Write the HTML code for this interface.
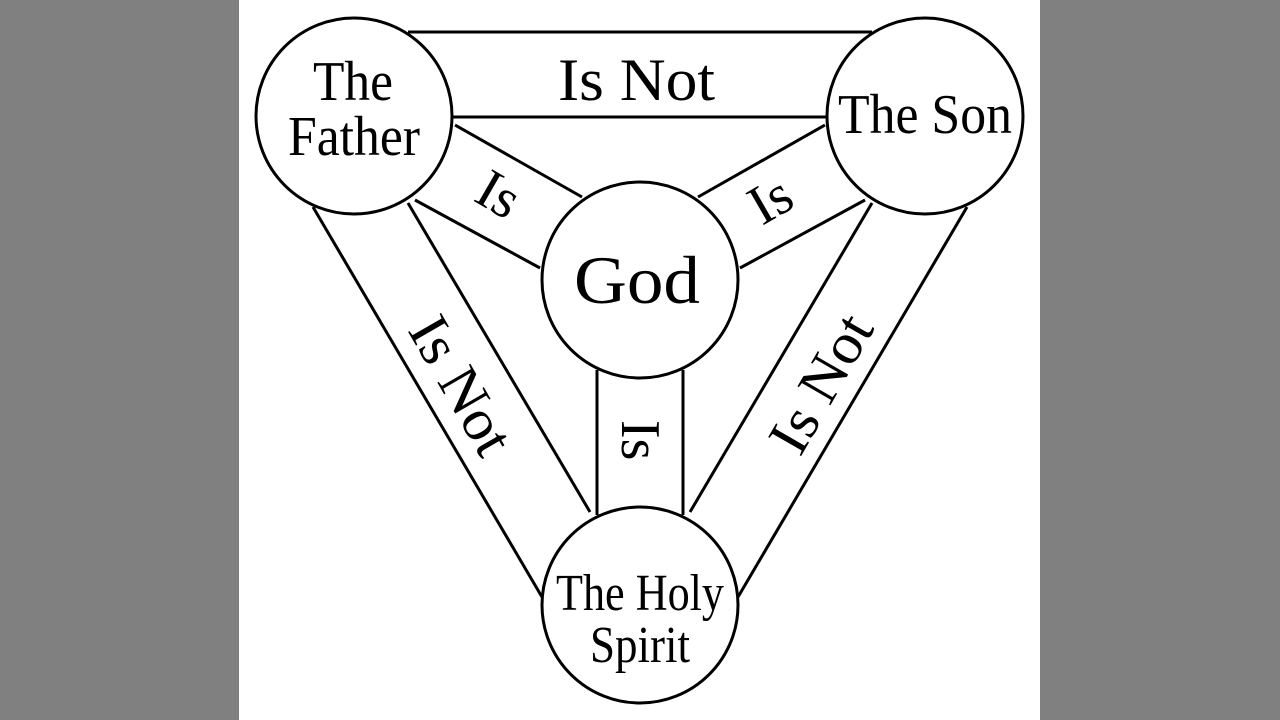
<!DOCTYPE html>
<html><head><style>
html,body{margin:0;padding:0;background:#808080;width:1280px;height:720px;overflow:hidden}
svg{position:absolute;left:0;top:0}
text{font-family:"Liberation Serif",serif;fill:#000}
</style></head><body>
<svg width="1280" height="720" viewBox="0 0 1280 720">
<rect x="239" y="0" width="801" height="720" fill="#fff"/>
<g stroke="#000" stroke-width="3" fill="none">
<line x1="408" y1="32" x2="872" y2="32"/>
<line x1="453" y1="117" x2="827" y2="117"/>
<line x1="455" y1="125" x2="582" y2="197"/>
<line x1="415" y1="200" x2="540" y2="268"/>
<line x1="825" y1="125" x2="698" y2="197"/>
<line x1="865" y1="200" x2="740" y2="268"/>
<line x1="313" y1="207" x2="542" y2="597"/>
<line x1="408" y1="203" x2="590" y2="512"/>
<line x1="967" y1="207" x2="738" y2="597"/>
<line x1="872" y1="203" x2="690" y2="512"/>
<line x1="597" y1="370" x2="597" y2="515"/>
<line x1="683" y1="370" x2="683" y2="515"/>
</g>
<g stroke="#000" stroke-width="3" fill="#fff">
<circle cx="354" cy="116" r="98"/>
<circle cx="925" cy="116" r="98"/>
<circle cx="640" cy="280" r="98"/>
<circle cx="640" cy="605" r="98"/>
</g>
<g font-size="56">
<text x="313" y="100" textLength="80" lengthAdjust="spacingAndGlyphs">The</text>
<text x="288" y="155" textLength="132" lengthAdjust="spacingAndGlyphs">Father</text>
<text x="838" y="133" textLength="174" lengthAdjust="spacingAndGlyphs">The Son</text>
<text x="574" y="303" font-size="68" textLength="126" lengthAdjust="spacingAndGlyphs">God</text>
<text x="556" y="610" font-size="52" textLength="168" lengthAdjust="spacingAndGlyphs">The Holy</text>
<text x="590" y="662" font-size="52" textLength="100" lengthAdjust="spacingAndGlyphs">Spirit</text>
<text x="558" y="100" font-size="60" textLength="157" lengthAdjust="spacingAndGlyphs">Is Not</text>
<text transform="translate(472,200) rotate(30)" font-size="56">Is</text>
<text transform="translate(762,226) rotate(-30)" font-size="56">Is</text>
<text transform="translate(622,420) rotate(90)" font-size="56">Is</text>
<text transform="translate(407,330) rotate(60)" font-size="58" textLength="150" lengthAdjust="spacingAndGlyphs">Is Not</text>
<text transform="translate(800,458) rotate(-60)" font-size="58" textLength="150" lengthAdjust="spacingAndGlyphs">Is Not</text>
</g>
</svg>
</body></html>
